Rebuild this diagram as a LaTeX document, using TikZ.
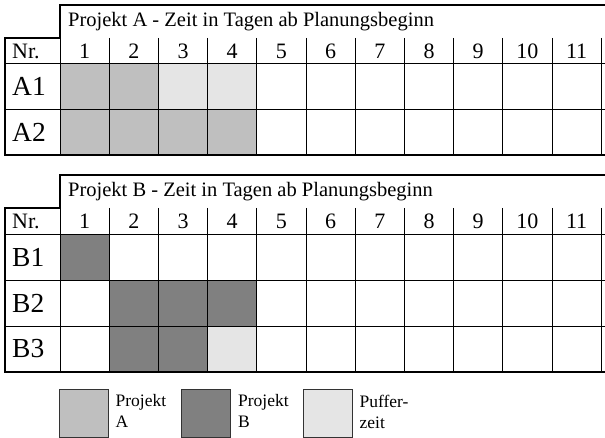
\documentclass[tikz,border=0pt]{standalone}
\usepackage{fontspec}
\setmainfont{Liberation Serif}
\usetikzlibrary{positioning}

\definecolor{projA}{gray}{0.75}
\definecolor{projB}{gray}{0.5}
\definecolor{puffer}{gray}{0.9}

\begin{document}
\begin{tikzpicture}[x=1pt, y=-1pt,
    frame/.style={line width=2pt},
    gridline/.style={line width=0.9pt},
    title/.style={anchor=west, inner sep=0pt, font=\fontsize{20.5}{22}\selectfont},
    nrlabel/.style={anchor=west, inner sep=0pt, font=\fontsize{22}{24}\selectfont},
    daynum/.style={inner sep=0pt, font=\fontsize{22}{24}\selectfont},
    rowlabel/.style={anchor=west, inner sep=0pt, font=\fontsize{27.5}{30}\selectfont},
    legbox/.style={rectangle, draw=black!80, line width=0.8pt, minimum width=49pt, minimum height=48pt, inner sep=0pt},
    legtext/.style={anchor=north west, align=left, inner sep=0pt, font=\fontsize{17.5}{21}\selectfont}
]
\useasboundingbox (0,0) rectangle (605,438);

% Projekt A
\foreach \c/\r/\f in {1/0/projA, 2/0/projA, 3/0/puffer, 4/0/puffer,
                      1/1/projA, 2/1/projA, 3/1/projA, 4/1/projA}
    \fill[\f] ({60+(\c-1)*49.2},{63+\r*46}) rectangle ({60+\c*49.2},{109+\r*46});
\draw[gridline] (5,63) -- (605,63);
\draw[gridline] (5,109) -- (605,109);
\foreach \i in {0,...,11}
    \draw[gridline] ({60+\i*49.2},38) -- ({60+\i*49.2},155);
\draw[frame] (605,5) -- (60,5) -- (60,38) -- (5,38) -- (5,155) -- (605,155);

\node[title] (titleA) at (68,22) {Projekt A - Zeit in Tagen ab Planungsbeginn};
\node[nrlabel] (nrA) at (12,51) {Nr.};
\foreach \i in {1,...,11}
    \node[daynum] (dayA\i) at ({60+(\i-0.5)*49.2},51) {\i};
\node[rowlabel] (A1) at (12,86) {A1};
\node[rowlabel] (A2) at (12,132) {A2};

% Projekt B
\foreach \c/\r/\f in {1/0/projB,
                      2/1/projB, 3/1/projB, 4/1/projB,
                      2/2/projB, 3/2/projB, 4/2/puffer}
    \fill[\f] ({60+(\c-1)*49.2},{234+\r*46}) rectangle ({60+\c*49.2},{280+\r*46});
\foreach \y in {234,280,326}
    \draw[gridline] (5,\y) -- (605,\y);
\foreach \i in {0,...,11}
    \draw[gridline] ({60+\i*49.2},208) -- ({60+\i*49.2},372);
\draw[frame] (605,175) -- (60,175) -- (60,208) -- (5,208) -- (5,372) -- (605,372);

\node[title] (titleB) at (68,192) {Projekt B - Zeit in Tagen ab Planungsbeginn};
\node[nrlabel] (nrB) at (12,221) {Nr.};
\foreach \i in {1,...,11}
    \node[daynum] (dayB\i) at ({60+(\i-0.5)*49.2},221) {\i};
\node[rowlabel] (B1) at (12,257) {B1};
\node[rowlabel] (B2) at (12,303) {B2};
\node[rowlabel] (B3) at (12,349) {B3};

% Legende
\node[legbox, fill=projA] (legA) at (83.5,413) {};
\node[legtext] (legAtext) at ([xshift=7pt, yshift=-6pt]legA.north east) {Projekt\\A};
\node[legbox, fill=projB] (legB) at (206,413) {};
\node[legtext] (legBtext) at ([xshift=7pt, yshift=-6pt]legB.north east) {Projekt\\B};
\node[legbox, fill=puffer] (legP) at (327.5,413) {};
\node[legtext] (legPtext) at ([xshift=7pt, yshift=-6pt]legP.north east) {Puffer-\\zeit};

\end{tikzpicture}
\end{document}
